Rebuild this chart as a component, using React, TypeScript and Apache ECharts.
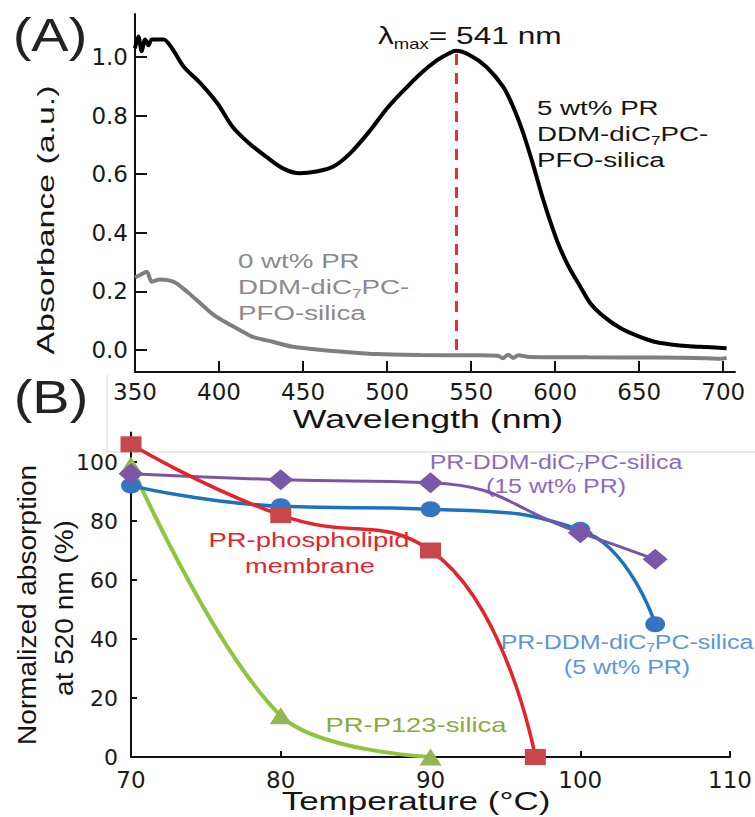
import React, { useEffect, useRef } from "react";
import * as echarts from "echarts";

// ---------- Panel A data ----------
const wavelengthTicks = [350, 400, 450, 500, 550, 600, 650, 700];
const absorbanceTicks = [0, 0.2, 0.4, 0.6, 0.8, 1.0];

const wl5 = [350, 352, 354, 356, 358, 360, 367, 372, 379, 389, 399, 408, 418, 428, 438, 448, 458, 468, 478, 490, 500, 510, 520, 530, 537, 541, 549, 559, 569, 575, 581, 587, 592, 597, 602, 608, 615, 621, 629, 639, 649, 659, 669, 680, 690, 702];
const abs5 = [1.03, 1.07, 1.02, 1.06, 1.04, 1.06, 1.06, 1.03, 0.967, 0.91, 0.842, 0.762, 0.705, 0.66, 0.62, 0.603, 0.609, 0.626, 0.671, 0.75, 0.825, 0.887, 0.944, 0.99, 1.013, 1.021, 1.007, 0.967, 0.899, 0.83, 0.74, 0.63, 0.53, 0.44, 0.36, 0.285, 0.216, 0.159, 0.114, 0.074, 0.048, 0.028, 0.019, 0.013, 0.01, 0.006];

const wl0 = [350, 353, 357, 360, 365, 373, 381, 389, 397, 405, 413, 420, 432, 444, 458, 474, 494, 520, 550, 566, 569, 572, 575, 578, 585, 620, 660, 690, 698, 702];
const abs0 = [0.248, 0.256, 0.267, 0.233, 0.241, 0.233, 0.199, 0.159, 0.119, 0.091, 0.066, 0.045, 0.028, 0.011, 0.002, -0.006, -0.014, -0.017, -0.018, -0.02, -0.028, -0.016, -0.027, -0.018, -0.024, -0.025, -0.026, -0.028, -0.03, -0.027];

const lambdaMax = 541;
const lambdaLineTop = 1.01;

// ---------- Panel B data ----------
const temperatureTicks = [70, 80, 90, 100, 110];
const normTicks = [0, 20, 40, 60, 80, 100];

const tempPhospholipid = [70, 80, 90, 97];
const normPhospholipid = [106, 82, 70, 0];
const tempP123 = [70, 80, 90];
const normP123 = [99, 14, 0];
const temp15 = [70, 80, 90, 100, 105];
const norm15 = [96, 94, 93, 76, 67];
const temp5 = [70, 80, 90, 100, 105];
const norm5 = [92, 85, 84, 77, 45];

const zip = (xs: number[], ys: number[]) => xs.map((x, i) => [x, ys[i]]);

const FONT = "'Liberation Sans', Arial, Helvetica, sans-serif";
const TICKFONT = "'DejaVu Sans', sans-serif";

type TxtOpts = { align?: string; sx?: number; rotation?: number };

function line(text: string, x: number, y: number, size: number, color: string, o: TxtOpts = {}) {
  const lh = size + 4;
  const subSize = Math.round(size * 0.62);
  const rich: any = {
    n: { fontSize: size, fontFamily: FONT, fill: color, lineHeight: lh },
    s: { fontSize: subSize, fontFamily: FONT, fill: color, lineHeight: subSize, verticalAlign: "bottom" },
  };
  return {
    type: "text",
    x,
    y,
    rotation: o.rotation || 0,
    scaleX: o.sx || 1,
    scaleY: 1,
    silent: true,
    style: {
      text,
      rich,
      fontSize: size,
      fontFamily: FONT,
      fill: color,
      align: o.align || "left",
      textAlign: o.align || "left",
      verticalAlign: "middle",
      textVerticalAlign: "middle",
    },
  };
}

const black = "#141414";
const grayTxt = "#8a8a8a";
const purpleTxt = "#8c6bbd";
const blueTxt = "#5b98d8";
const redTxt = "#e0262e";
const greenTxt = "#8aaa3e";

const graphics: any[] = [
  // panel frame remnants
  { type: "line", silent: true, shape: { x1: 107, y1: 375, x2: 107, y2: 452 }, style: { stroke: "#d4d4d4", lineWidth: 1 } },
  { type: "line", silent: true, shape: { x1: 107, y1: 452, x2: 755, y2: 452 }, style: { stroke: "#d4d4d4", lineWidth: 1 } },
  // panel letters
  line("{n|(A)}", 50, 35, 47, "#222", { align: "center", sx: 1.19 }),
  line("{n|(B)}", 51, 397, 47, "#222", { align: "center", sx: 1.19 }),
  // lambda max
  {
    type: "text",
    x: 378,
    y: 36,
    scaleX: 1.32,
    silent: true,
    style: {
      text: "{a|λ}{b|max}{a|= 541 nm}",
      align: "left",
      textAlign: "left",
      verticalAlign: "middle",
      textVerticalAlign: "middle",
      rich: {
        a: { fontSize: 24, fontFamily: FONT, fill: black, lineHeight: 30 },
        b: { fontSize: 14, fontFamily: FONT, fill: black, lineHeight: 14, verticalAlign: "bottom" },
      },
    },
  },
  // panel A annotations
  line("{n|5 wt% PR}", 537, 108, 21, black, { sx: 1.32 }),
  line("{n|DDM-diC}{s|7}{n|PC-}", 537, 134, 21, black, { sx: 1.32 }),
  line("{n|PFO-silica}", 537, 160, 21, black, { sx: 1.32 }),
  line("{n|0 wt% PR}", 238, 261, 21, grayTxt, { sx: 1.32 }),
  line("{n|DDM-diC}{s|7}{n|PC-}", 238, 287, 21, grayTxt, { sx: 1.32 }),
  line("{n|PFO-silica}", 238, 313, 21, grayTxt, { sx: 1.32 }),
  // axis titles A
  line("{n|Wavelength (nm)}", 428, 419, 25.5, black, { align: "center", sx: 1.4 }),
  line("{n|Absorbance (a.u.)}", 45, 220, 24, black, { align: "center", sx: 1.41, rotation: Math.PI / 2 }),
  // panel B annotations
  line("{n|PR-DDM-diC}{s|7}{n|PC-silica}", 556, 462, 20, purpleTxt, { align: "center", sx: 1.25 }),
  line("{n|(15 wt% PR)}", 556, 486, 20, purpleTxt, { align: "center", sx: 1.25 }),
  line("{n|PR-phospholipid}", 309, 540, 20, redTxt, { align: "center", sx: 1.37 }),
  line("{n|membrane}", 310, 566, 20, redTxt, { align: "center", sx: 1.36 }),
  line("{n|PR-DDM-diC}{s|7}{n|PC-silica}", 627, 642, 20, blueTxt, { align: "center", sx: 1.25 }),
  line("{n|(5 wt% PR)}", 627, 667, 20, blueTxt, { align: "center", sx: 1.25 }),
  line("{n|PR-P123-silica}", 416, 725, 20, greenTxt, { align: "center", sx: 1.37 }),
  // axis titles B
  line("{n|Temperature (°C)}", 416, 801, 25, black, { align: "center", sx: 1.4 }),
  line("{n|Normalized absorption}", 28, 605, 25, black, { align: "center", sx: 1.12, rotation: Math.PI / 2 }),
  line("{n|at 520 nm (%)}", 65, 608, 25, black, { align: "center", sx: 1.12, rotation: Math.PI / 2 }),
];

const axisLineStyle = { color: "#111", width: 2 };

const option: any = {
  animation: false,
  backgroundColor: "#fff",
  grid: [
    { left: 135, right: 20, top: 14, bottom: 445 },
    { left: 131, right: 12, top: 432.5, bottom: 60 },
  ],
  xAxis: [
    {
      gridIndex: 0,
      type: "value",
      min: 350,
      max: 707,
      axisLine: { onZero: false, lineStyle: axisLineStyle },
      axisTick: { inside: true, length: 11, lineStyle: axisLineStyle, customValues: wavelengthTicks },
      axisLabel: { customValues: wavelengthTicks, margin: 8, fontSize: 23, fontFamily: TICKFONT, color: "#1a1a1a" },
      splitLine: { show: false },
    },
    {
      gridIndex: 1,
      type: "value",
      min: 70,
      max: 110,
      axisLine: { onZero: false, lineStyle: axisLineStyle },
      axisTick: { inside: true, length: 6, lineStyle: axisLineStyle, customValues: temperatureTicks },
      axisLabel: { customValues: temperatureTicks, margin: 11, fontSize: 23, fontFamily: TICKFONT, color: "#1a1a1a" },
      splitLine: { show: false },
    },
  ],
  yAxis: [
    {
      gridIndex: 0,
      type: "value",
      min: -0.0751,
      max: 1.1468,
      axisLine: { show: true, onZero: false, lineStyle: axisLineStyle },
      axisTick: { show: true, inside: true, length: 12, lineStyle: axisLineStyle, customValues: absorbanceTicks },
      axisLabel: {
        customValues: absorbanceTicks,
        margin: 7,
        fontSize: 23,
        fontFamily: TICKFONT,
        color: "#1a1a1a",
        formatter: (v: number) => v.toFixed(1),
      },
      splitLine: { show: false },
    },
    {
      gridIndex: 1,
      type: "value",
      min: 0,
      max: 110,
      axisLine: { show: true, onZero: false, lineStyle: axisLineStyle },
      axisTick: { show: true, inside: true, length: 6, lineStyle: axisLineStyle, customValues: normTicks },
      axisLabel: { customValues: normTicks, margin: 13, fontSize: 22, fontFamily: TICKFONT, color: "#1a1a1a" },
      splitLine: { show: false },
    },
  ],
  series: [
    {
      name: "0 wt% PR",
      type: "line",
      xAxisIndex: 0,
      yAxisIndex: 0,
      data: zip(wl0, abs0),
      showSymbol: false,
      smooth: 0.3,
      lineStyle: { color: "#7f7f7f", width: 4 },
      itemStyle: { color: "#7f7f7f" },
    },
    {
      name: "5 wt% PR",
      type: "line",
      xAxisIndex: 0,
      yAxisIndex: 0,
      data: zip(wl5, abs5),
      showSymbol: false,
      smooth: 0.3,
      lineStyle: { color: "#000", width: 4 },
      itemStyle: { color: "#000" },
      markLine: {
        silent: true,
        symbol: ["none", "none"],
        label: { show: false },
        lineStyle: { color: "#e8302b", width: 3, type: [11, 8] },
        data: [[{ coord: [lambdaMax, 0] }, { coord: [lambdaMax, lambdaLineTop] }]],
      },
    },
    {
      name: "PR-P123-silica",
      type: "line",
      xAxisIndex: 1,
      yAxisIndex: 1,
      smooth: 0.35,
      data: zip(tempP123, normP123),
      symbol: "triangle",
      symbolSize: [22, 17],
      lineStyle: { color: "#8cc63f", width: 4 },
      itemStyle: { color: "#94b553" },
    },
    {
      name: "PR-DDM-diC7PC-silica (5 wt% PR)",
      type: "line",
      xAxisIndex: 1,
      yAxisIndex: 1,
      smooth: true,
      data: zip(temp5, norm5),
      symbol: "circle",
      symbolSize: [20, 16],
      lineStyle: { color: "#1b73be", width: 3.5 },
      itemStyle: { color: "#3474c4" },
    },
    {
      name: "PR-DDM-diC7PC-silica (15 wt% PR)",
      type: "line",
      xAxisIndex: 1,
      yAxisIndex: 1,
      smooth: true,
      data: zip(temp15, norm15),
      symbol: "diamond",
      symbolSize: [25, 21],
      lineStyle: { color: "#7a55a5", width: 3 },
      itemStyle: { color: "#7a57a8" },
    },
    {
      name: "PR-phospholipid membrane",
      type: "line",
      xAxisIndex: 1,
      yAxisIndex: 1,
      smooth: true,
      data: zip(tempPhospholipid, normPhospholipid),
      symbol: "rect",
      symbolSize: [21, 16],
      lineStyle: { color: "#e52329", width: 3.5 },
      itemStyle: { color: "#c9474b" },
    },
  ],
  graphic: graphics,
};

export default function App() {
  const ref = useRef<HTMLDivElement>(null);
  useEffect(() => {
    const chart = echarts.init(ref.current as HTMLDivElement, null, { renderer: "svg" });
    chart.setOption(option);
    return () => chart.dispose();
  }, []);
  return (
    <div
      ref={ref}
      style={{ position: "fixed", left: 0, top: 0, width: 755, height: 817, background: "#fff" }}
    />
  );
}
